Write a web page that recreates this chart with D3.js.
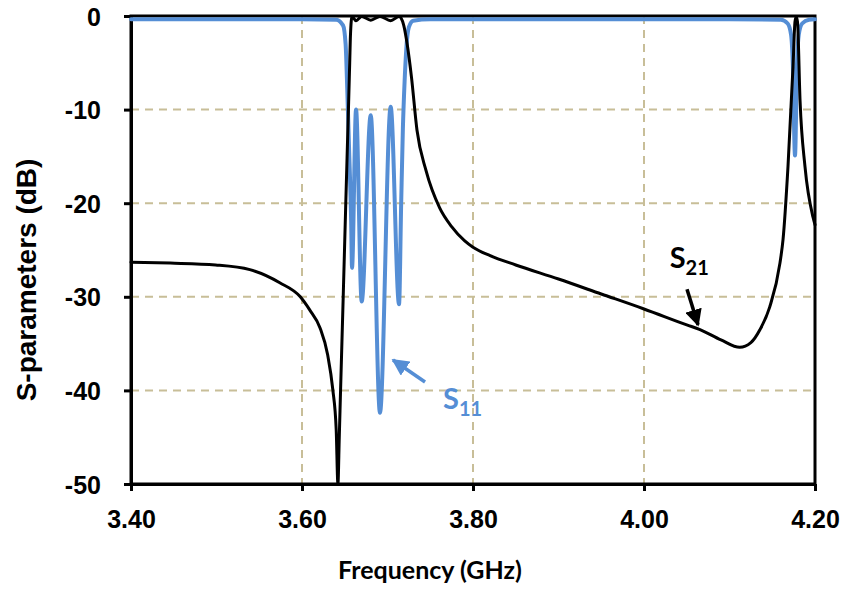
<!DOCTYPE html>
<html>
<head>
<meta charset="utf-8">
<script src="https://cdn.jsdelivr.net/npm/d3@7"></script>
<style>
  body { margin: 0; background: #fff; }
  svg { display: block; }
</style>
</head>
<body>
<svg id="chart" width="846" height="590"></svg>
<script>
// S21 (black)
var s21Freq = [3.400, 3.446, 3.499, 3.539, 3.574, 3.598, 3.609, 3.621, 3.630, 3.636, 3.640, 3.642,
  3.6436, 3.6451, 3.6482, 3.6512, 3.6543, 3.6558, 3.6567, 3.6585, 3.6632, 3.6698, 3.6804, 3.6912,
  3.7037, 3.7135, 3.716, 3.719, 3.723, 3.728, 3.7345, 3.745, 3.761, 3.775, 3.790, 3.800, 3.820,
  3.850, 3.900, 3.950, 4.000, 4.050, 4.0655, 4.090, 4.112, 4.125, 4.1357, 4.147, 4.159, 4.1626,
  4.1684, 4.1743, 4.1766, 4.178, 4.1795, 4.1825, 4.1883, 4.1977, 4.200];
var s21Db = [-26.3, -26.4, -26.6, -27.1, -28.5, -30.0, -31.4, -33.3, -36.2, -39.9, -44.2, -50.0,
  -45.0, -40.0, -30.0, -20.0, -10.0, -5.0, -2.0, -0.05, -0.5, -0.05, -0.45, -0.05,
  -0.5, -0.05, -0.25, -1.0, -3.0, -6.5, -12.2, -16.5, -20.5, -22.5, -24.0, -24.7, -25.6,
  -26.6, -28.1, -29.7, -31.3, -33.0, -33.5, -34.6, -35.4, -34.9, -33.5, -31.1, -26.4, -23.9,
  -16.1, -5.4, -0.6, -0.1, -0.6, -9.0, -16.1, -21.5, -22.3];

// S11 (blue)
var s11Freq = [3.400, 3.600, 3.640, 3.648, 3.651, 3.653, 3.655, 3.6575, 3.6585, 3.6632, 3.6698,
  3.6804, 3.6912, 3.7037, 3.7135, 3.716, 3.718, 3.720, 3.722, 3.725, 3.730, 3.750, 3.900,
  4.100, 4.160, 4.168, 4.172, 4.174, 4.1766, 4.179, 4.181, 4.185, 4.193, 4.200];
var s11Db = [-0.35, -0.35, -0.4, -1.0, -3.0, -8.0, -14.0, -22.0, -26.9, -10.0, -30.5,
  -10.6, -42.4, -9.7, -30.8, -20.0, -12.0, -7.0, -3.5, -1.2, -0.5, -0.35, -0.35,
  -0.35, -0.4, -0.8, -2.0, -5.0, -14.9, -5.0, -2.0, -0.8, -0.4, -0.35];

var xTicks = [3.40, 3.60, 3.80, 4.00, 4.20];
var yTicks = [0, -10, -20, -30, -40, -50];
var xGrid = [3.60, 3.80, 4.00];
var yGrid = [-10, -20, -30, -40];

var svg = d3.select("#chart");
var x = d3.scaleLinear().domain([3.40, 4.20]).range([131, 815]);
var y = d3.scaleLinear().domain([-50, 0]).range([484, 16]);

var GRID = "#c8be98";
var BLUE = "#558ed5";

// grid
svg.append("g").selectAll("line").data(xGrid).enter().append("line")
  .attr("x1", function(d) { return x(d); }).attr("x2", function(d) { return x(d); })
  .attr("y1", y(0)).attr("y2", y(-50))
  .attr("stroke", GRID).attr("stroke-width", 2).attr("stroke-dasharray", "8,6");
svg.append("g").selectAll("line").data(yGrid).enter().append("line")
  .attr("x1", x(3.40)).attr("x2", x(4.20))
  .attr("y1", function(d) { return y(d); }).attr("y2", function(d) { return y(d); })
  .attr("stroke", GRID).attr("stroke-width", 2).attr("stroke-dasharray", "8,6");

// frame
svg.append("rect")
  .attr("x", x(3.40)).attr("y", y(0))
  .attr("width", x(4.20) - x(3.40)).attr("height", y(-50) - y(0))
  .attr("fill", "none").attr("stroke", "#000").attr("stroke-width", 3);

// axes (plain hyphen for negatives, like the original)
var xAxis = svg.append("g").attr("transform", "translate(0," + y(-50) + ")")
  .call(d3.axisBottom(x).tickValues(xTicks).tickFormat(d3.format(".2f")).tickSize(7).tickSizeOuter(0).tickPadding(19));
var yAxis = svg.append("g").attr("transform", "translate(" + x(3.40) + ",0)")
  .call(d3.axisLeft(y).tickValues(yTicks).tickFormat(function(d) { return String(d); }).tickSize(7).tickSizeOuter(0).tickPadding(23));
[xAxis, yAxis].forEach(function(a) {
  a.select(".domain").attr("stroke", "#000").attr("stroke-width", 3);
  a.selectAll(".tick line").attr("stroke", "#000").attr("stroke-width", 3);
  a.selectAll(".tick text")
    .attr("fill", "#000")
    .style("font-family", "'Liberation Sans', Arial, sans-serif")
    .style("font-weight", "bold")
    .style("font-size", "25px");
});
yAxis.selectAll(".tick text").attr("dy", "0.36em");

// curves
var line = d3.line().curve(d3.curveMonotoneX);

svg.append("path")
  .datum(d3.zip(s11Freq, s11Db))
  .attr("d", line.x(function(d) { return x(d[0]); }).y(function(d) { return y(d[1]); }))
  .attr("fill", "none").attr("stroke", BLUE).attr("stroke-width", 4)
  .attr("stroke-linejoin", "round").attr("stroke-linecap", "round");

svg.append("path")
  .datum(d3.zip(s21Freq, s21Db))
  .attr("d", line.x(function(d) { return x(d[0]); }).y(function(d) { return y(d[1]); }))
  .attr("fill", "none").attr("stroke", "#000").attr("stroke-width", 3)
  .attr("stroke-linejoin", "round").attr("stroke-linecap", "round");

// arrows + labels
var defs = svg.append("defs");
function marker(id, color) {
  defs.append("marker").attr("id", id)
    .attr("viewBox", "0 0 10 10").attr("refX", 9).attr("refY", 5)
    .attr("markerUnits", "userSpaceOnUse")
    .attr("markerWidth", 17).attr("markerHeight", 17).attr("orient", "auto")
    .append("path").attr("d", "M0,0 L10,5 L0,10 Z").attr("fill", color);
}
marker("arrBlue", BLUE);
marker("arrBlack", "#000");

var arrows = [
  { from: [3.7439, -39.1], to: [3.7064, -36.75], color: BLUE, m: "arrBlue" },
  { from: [4.0503, -29.2], to: [4.0632, -33.0], color: "#000", m: "arrBlack" }
];
arrows.forEach(function(a) {
  svg.append("line")
    .attr("x1", x(a.from[0])).attr("y1", y(a.from[1]))
    .attr("x2", x(a.to[0])).attr("y2", y(a.to[1]))
    .attr("stroke", a.color).attr("stroke-width", 3.5)
    .attr("marker-end", "url(#" + a.m + ")");
});

var labels = [
  { at: [3.7650, -42.0], sub: "11", color: BLUE },
  { at: [4.0300, -26.9], sub: "21", color: "#000" }
];
labels.forEach(function(l) {
  var t = svg.append("text")
    .attr("x", x(l.at[0])).attr("y", y(l.at[1]))
    .attr("fill", l.color)
    .style("font-family", "Lato, 'Open Sans', sans-serif")
    .style("font-weight", "bold")
    .style("font-size", "29px");
  t.append("tspan").text("S");
  t.append("tspan").attr("dy", 7).style("font-size", "20px").text(l.sub);
});

// axis titles
svg.append("text")
  .attr("x", 430).attr("y", 579)
  .attr("text-anchor", "middle")
  .style("font-family", "Lato, 'Open Sans', sans-serif")
  .style("font-weight", "bold").style("font-size", "25px")
  .text("Frequency (GHz)");

svg.append("text")
  .attr("transform", "translate(36,280) rotate(-90)")
  .attr("text-anchor", "middle")
  .style("font-family", "'Liberation Sans', Arial, sans-serif")
  .style("font-weight", "bold").style("font-size", "28px")
  .text("S-parameters (dB)");
</script>
</body>
</html>
